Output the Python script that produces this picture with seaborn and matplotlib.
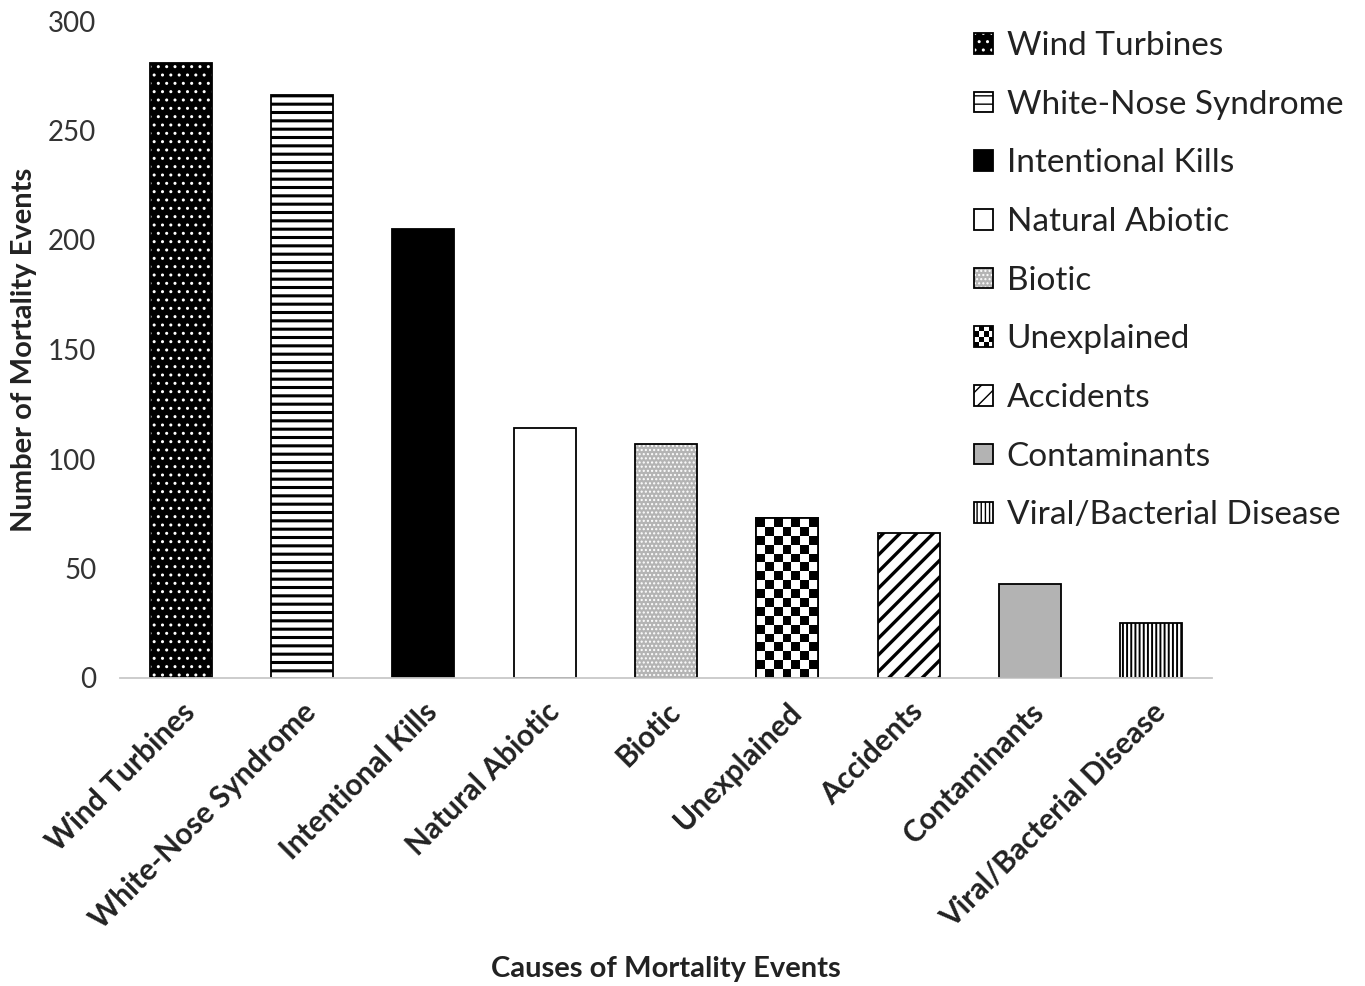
import matplotlib
matplotlib.use("Agg")
import matplotlib.pyplot as plt
import matplotlib as mpl
import numpy as np
import pandas as pd
import seaborn as sns
from matplotlib.patches import Patch, Rectangle
from matplotlib.legend_handler import HandlerBase

categories = ["Wind Turbines", "White-Nose Syndrome", "Intentional Kills", "Natural Abiotic",
              "Biotic", "Unexplained", "Accidents", "Contaminants", "Viral/Bacterial Disease"]
values = [281, 266, 205, 114, 107, 73, 66, 43, 25]
yticks = [0, 50, 100, 150, 200, 250, 300]

# style per bar: (facecolor, hatch, hatchcolor, hatch linewidth)
styles = [
    ("black", "..", "white", 1.0),
    ("white", "--", "black", 2.2),
    ("black", None, "black", 1.0),
    ("white", None, "black", 1.0),
    ("#b4b4b4", "....", "white", 1.0),
    ("checker", None, "black", 1.0),
    ("white", "//", "black", 2.4),
    ("#b3b3b3", None, "black", 1.0),
    ("white", "||||", "black", 1.4),
]

sns.set_theme(style="white")
plt.rcParams["font.family"] = ["Lato", "DejaVu Sans"]

fig = plt.figure(figsize=(13.65, 9.86), dpi=100)
ax = fig.add_axes([120/1365, 1-678/986, 1092/1365, 657/986])

df = pd.DataFrame({"cause": categories, "count": values})
sns.barplot(data=df, x="cause", y="count", ax=ax, color="white", width=0.51,
            edgecolor="black", linewidth=1.3, saturation=1)

ax.set_xlim(-0.5, len(categories) - 0.5)
ax.set_ylim(0, 300)
ax.set_yticks(yticks)
ax.set_yticklabels([str(v) for v in yticks], fontsize=20, color="#333333")
ax.tick_params(axis="y", length=0, pad=17)

def apply_style(p, st):
    fc, hatch, hc, hlw = st
    if fc == "checker":
        p.set_facecolor("white")
    else:
        p.set_facecolor(fc)
    p.set_edgecolor("black")
    if hatch:
        p.set_hatch(hatch)
        p._hatch_color = mpl.colors.to_rgba(hc)
        if hasattr(p, "set_hatch_linewidth"):
            p.set_hatch_linewidth(hlw)
        else:
            p._hatch_linewidth = hlw

for p, st in zip(ax.patches, styles):
    apply_style(p, st)

# checkerboard for "Unexplained"
fig.canvas.draw()
for p, st in zip(ax.patches, styles):
    if st[0] == "checker":
        bb = p.get_bbox()
        (px0, py0) = ax.transData.transform((bb.x0, bb.y0))
        (px1, py1) = ax.transData.transform((bb.x1, bb.y1))
        ncol = 7
        sq = (px1 - px0) / ncol
        nrow = max(1, int(round((py1 - py0) / sq)))
        board = (np.add.outer(np.arange(nrow), np.arange(ncol)) % 2).astype(float)
        ax.imshow(board, cmap="gray", extent=(bb.x0, bb.x1, bb.y0, bb.y1),
                  interpolation="nearest", aspect="auto", clip_path=p, zorder=p.get_zorder() + 0.1)
        outline = Rectangle((bb.x0, bb.y0), bb.width, bb.height, fill=False,
                            edgecolor="black", linewidth=1.3, zorder=p.get_zorder() + 0.2)
        ax.add_patch(outline)
ax.set_xlim(-0.5, len(categories) - 0.5)
ax.set_ylim(0, 300)

# x axis
for s in ["top", "right", "left"]:
    ax.spines[s].set_visible(False)
ax.spines["bottom"].set_color("#c8c8c8")
ax.spines["bottom"].set_linewidth(1.3)
ax.set_xticks(np.arange(len(categories)))
ax.set_xticklabels(categories, rotation=45, ha="right", rotation_mode="anchor",
                   fontsize=21.5, fontweight="bold", color="#222222")
ax.tick_params(axis="x", which="major", length=0, pad=14)
ax.set_xticks(np.arange(-0.5, len(categories)), minor=True)
ax.tick_params(axis="x", which="minor", length=7, width=1.3, color="#c8c8c8", direction="out")
ax.grid(False)

ax.set_xlabel("Causes of Mortality Events", fontsize=21, fontweight="bold", color="#222222")
ax.xaxis.set_label_coords(0.5, -0.423)
ax.set_ylabel("Number of Mortality Events", fontsize=21, fontweight="bold", color="#222222")
ax.yaxis.set_label_coords(-0.076, 0.5)


class CheckerHandler(HandlerBase):
    def create_artists(self, legend, orig_handle, xdescent, ydescent, width, height, fontsize, trans):
        arts = []
        n = 4
        w = width / n
        h = height / n
        for i in range(n):
            for j in range(n):
                c = "black" if (i + j) % 2 == 0 else "white"
                r = Rectangle((-xdescent + i * w, -ydescent + j * h), w, h, facecolor=c,
                              edgecolor="none", transform=trans)
                arts.append(r)
        arts.append(Rectangle((-xdescent, -ydescent), width, height, fill=False,
                              edgecolor="black", linewidth=1.3, transform=trans))
        return arts


class CheckerPatch(Patch):
    pass


handles = []
for cat, st in zip(categories, styles):
    if st[0] == "checker":
        h = CheckerPatch(facecolor="white", edgecolor="black", label=cat)
    else:
        h = Patch(facecolor=st[0], edgecolor="black", linewidth=1.3, label=cat)
        apply_style(h, st)
    handles.append(h)

leg = fig.legend(handles=handles, loc="upper left", bbox_to_anchor=(974/1365, 1-31/986),
                 frameon=False, fontsize=24, handlelength=0.58, handleheight=0.58,
                 handletextpad=0.4, labelspacing=0.86, borderpad=0, borderaxespad=0,
                 handler_map={CheckerPatch: CheckerHandler()})
for t in leg.get_texts():
    t.set_color("#222222")

fig.savefig("out.png", dpi=100)
